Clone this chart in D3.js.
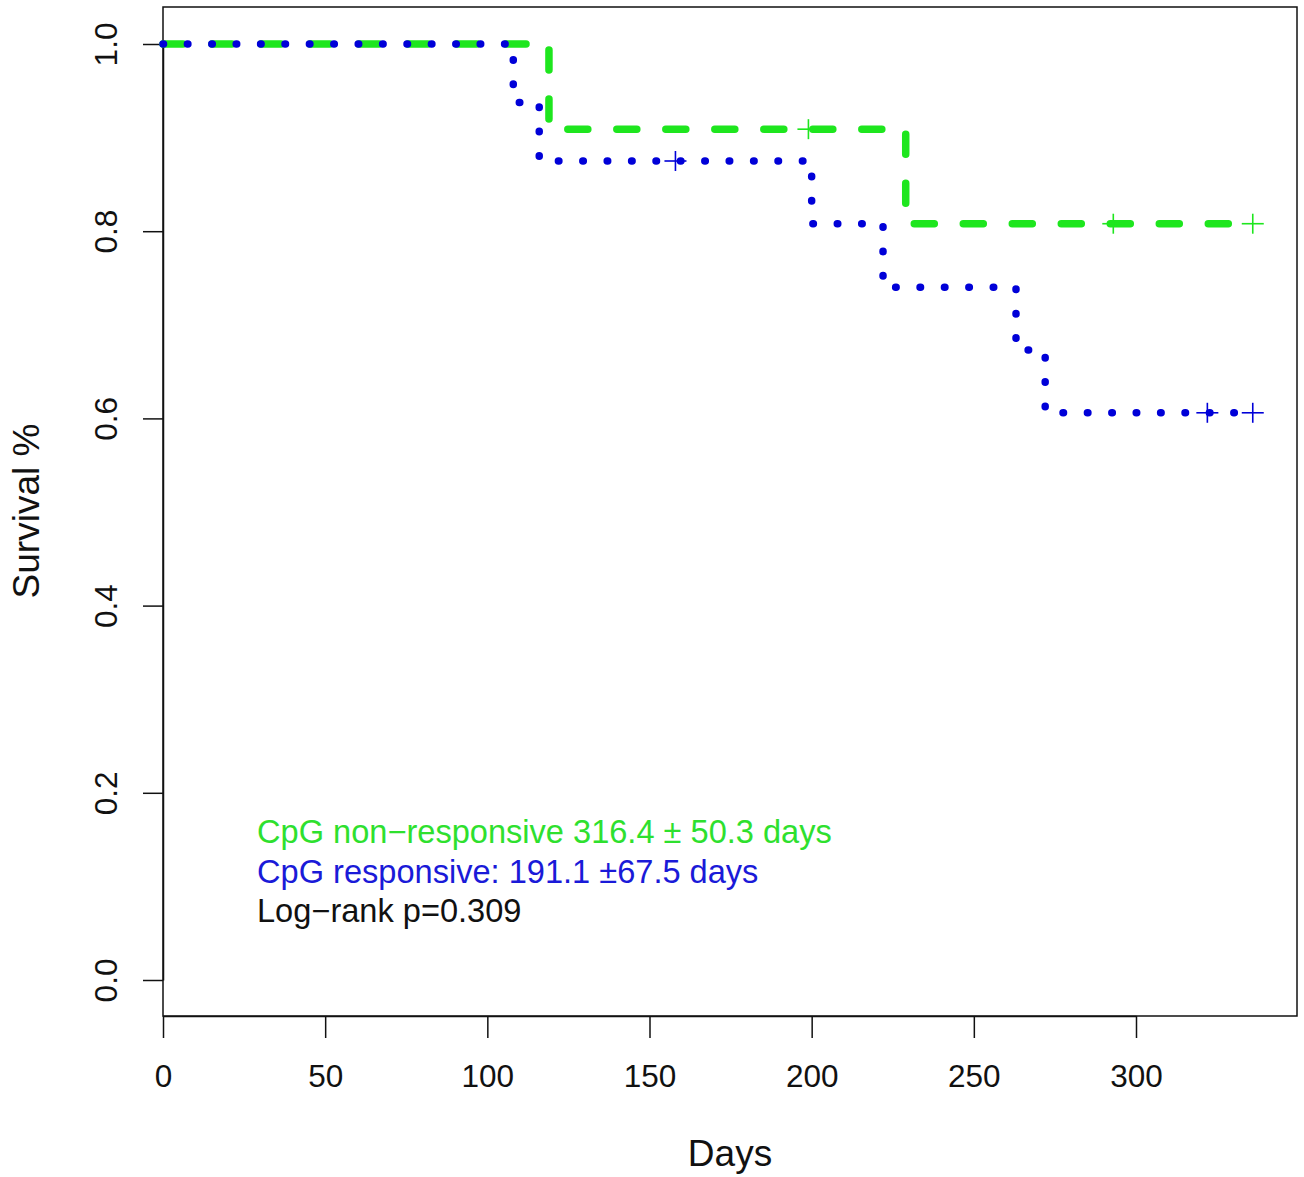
<!DOCTYPE html>
<html>
<head>
<meta charset="utf-8">
<script src="https://cdn.jsdelivr.net/npm/d3@7"></script>
<style>
  body { margin: 0; background: #fff; }
  svg text { font-family: Arial, "Liberation Sans", sans-serif; }
</style>
</head>
<body>
<div id="chart-container"></div>
<script>
// plot box in page pixels
const margin = { top: 7, right: 7, bottom: 161, left: 163 };
const width = 1304 - margin.left - margin.right;
const height = 1177 - margin.top - margin.bottom;

// ! Kaplan-Meier steps
const greenTimes = [0, 119, 229, 336];
const greenSurv = [1.0, 0.909, 0.808, 0.808];
const greenCensorTimes = [199, 293, 336];
const greenCensorSurv = [0.909, 0.808, 0.808];

const blueTimes = [0, 108, 116, 200, 222, 263, 272, 336];
const blueSurv = [1.0, 0.9375, 0.875, 0.808, 0.740, 0.673, 0.606, 0.606];
const blueCensorTimes = [158, 322, 336];
const blueCensorSurv = [0.875, 0.606, 0.606];

const xTicks = [0, 50, 100, 150, 200, 250, 300];
const yTicks = [0.0, 0.2, 0.4, 0.6, 0.8, 1.0];

const legendLines = [
  "CpG non\u2212responsive 316.4 \u00b1 50.3 days",
  "CpG responsive: 191.1 \u00b167.5 days",
  "Log\u2212rank p=0.309",
];
const legendColors = ["#2ee02e", "#1a1ad8", "#111"];

const green = "#1ee61e";
const blue = "#0000d8";

// scales: 0..300 days maps to 163..1136, survival 0..1 maps to 980..44
const x = d3.scaleLinear().domain([0, 300]).range([0, 973]);
const y = d3.scaleLinear().domain([0, 1]).range([973, 37]);

const svg = d3
  .select("#chart-container")
  .append("svg")
  .attr("width", 1304)
  .attr("height", 1177)
  .append("g")
  .attr("transform", `translate(${margin.left},${margin.top})`);

// box
svg
  .append("rect")
  .attr("x", 0)
  .attr("y", 0)
  .attr("width", width)
  .attr("height", height)
  .attr("fill", "none")
  .attr("stroke", "#111")
  .attr("stroke-width", 1.5);

// x axis
const xAxis = svg
  .append("g")
  .attr("transform", `translate(0, ${height})`)
  .call(d3.axisBottom(x).tickValues(xTicks).tickSize(22).tickSizeOuter(0).tickPadding(27).tickFormat(d3.format("d")));
xAxis.select(".domain").attr("stroke", "#111").attr("stroke-width", 1.5);
xAxis.selectAll(".tick line").attr("stroke", "#111").attr("stroke-width", 1.5);
xAxis.selectAll(".tick text")
  .attr("font-size", 31.5)
  .attr("fill", "#111")
  .attr("font-family", "Arial, 'Liberation Sans', sans-serif");

// y axis, labels rotated like R
const yAxis = svg
  .append("g")
  .call(d3.axisLeft(y).tickValues(yTicks).tickSize(20).tickSizeOuter(0).tickFormat(d3.format(".1f")));
yAxis.select(".domain").attr("stroke", "#111").attr("stroke-width", 1.5);
yAxis.selectAll(".tick line").attr("stroke", "#111").attr("stroke-width", 1.5);
yAxis.selectAll(".tick text")
  .attr("font-size", 31.5)
  .attr("fill", "#111")
  .attr("font-family", "Arial, 'Liberation Sans', sans-serif")
  .attr("x", null)
  .attr("dy", null)
  .attr("text-anchor", "middle")
  .attr("transform", "translate(-46,0) rotate(-90)");

// axis titles
svg
  .append("text")
  .attr("x", 730 - margin.left)
  .attr("y", 1166 - margin.top)
  .attr("text-anchor", "middle")
  .attr("font-size", 37)
  .attr("fill", "#111")
  .text("Days");

svg
  .append("text")
  .attr("transform", `translate(${39 - margin.left}, ${511 - margin.top}) rotate(-90)`)
  .attr("text-anchor", "middle")
  .attr("font-size", 37)
  .attr("fill", "#111")
  .text("Survival %");

// step lines
const line = d3
  .line()
  .x((d) => x(d[0]))
  .y((d) => y(d[1]))
  .curve(d3.curveStepAfter);

const greenData = greenTimes.map((t, i) => [t, greenSurv[i]]);
const blueData = blueTimes.map((t, i) => [t, blueSurv[i]]);

svg
  .append("path")
  .datum(greenData)
  .attr("fill", "none")
  .attr("stroke", green)
  .attr("stroke-width", 7.5)
  .attr("stroke-linecap", "round")
  .attr("stroke-dasharray", "20 29")
  .attr("d", line);

svg
  .append("path")
  .datum(blueData)
  .attr("fill", "none")
  .attr("stroke", blue)
  .attr("stroke-width", 7.5)
  .attr("stroke-linecap", "round")
  .attr("stroke-dasharray", "0.5 23.9")
  .attr("d", line);

// censor marks
function censor(times, surv, color) {
  const g = svg.append("g").attr("stroke", color).attr("stroke-width", 1.6);
  const pts = times.map((t, i) => [t, surv[i]]);
  g.selectAll(".h")
    .data(pts)
    .enter()
    .append("line")
    .attr("x1", (d) => x(d[0]) - 11)
    .attr("x2", (d) => x(d[0]) + 11)
    .attr("y1", (d) => y(d[1]))
    .attr("y2", (d) => y(d[1]));
  g.selectAll(".v")
    .data(pts)
    .enter()
    .append("line")
    .attr("x1", (d) => x(d[0]))
    .attr("x2", (d) => x(d[0]))
    .attr("y1", (d) => y(d[1]) - 10)
    .attr("y2", (d) => y(d[1]) + 10);
}
censor(greenCensorTimes, greenCensorSurv, green);
censor(blueCensorTimes, blueCensorSurv, blue);

// text legend
svg
  .selectAll(".legend")
  .data(legendLines)
  .enter()
  .append("text")
  .attr("x", 257 - margin.left)
  .attr("y", (d, i) => 843 - margin.top + i * 39.5)
  .attr("font-size", 32.6)
  .attr("fill", (d, i) => legendColors[i])
  .text((d) => d);
</script>
</body>
</html>
